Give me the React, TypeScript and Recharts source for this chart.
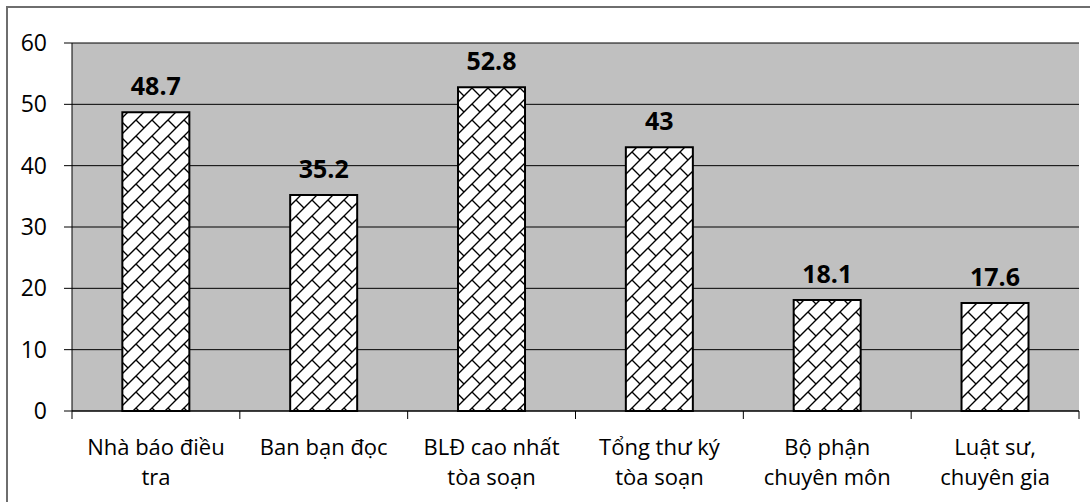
import { BarChart, Bar, XAxis, YAxis, CartesianGrid, LabelList } from 'recharts'

const categories = [
  'Nhà báo điều\ntra',
  'Ban bạn đọc',
  'BLĐ cao nhất\ntòa soạn',
  'Tổng thư ký\ntòa soạn',
  'Bộ phận\nchuyên môn',
  'Luật sư,\nchuyên gia',
]
const values = [48.7, 35.2, 52.8, 43, 18.1, 17.6]
const yTicks = [0, 10, 20, 30, 40, 50, 60]

const data = categories.map((name, i) => ({ name, value: values[i] }))

const FONT = '"Open Sans", sans-serif'

function CategoryTick(props: any) {
  const { x, y, payload, index } = props
  const half = payload.offset ?? 0
  const lines = String(payload.value).split('\n')
  const last = index === categories.length - 1
  return (
    <g>
      <line x1={x - half} x2={x - half} y1={y} y2={y + 8} stroke="#000" strokeWidth={1} />
      {last && <line x1={x + half} x2={x + half} y1={y} y2={y + 8} stroke="#000" strokeWidth={1} />}
      <text x={x} y={y + 44} textAnchor="middle" fontFamily={FONT} fontSize={22} fill="#000">
        {lines.map((l, i) => (
          <tspan key={i} x={x} dy={i === 0 ? 0 : 30}>
            {l}
          </tspan>
        ))}
      </text>
    </g>
  )
}

export default function App() {
  return (
    <div style={{ position: 'absolute', left: 0, top: 0, width: 1090, height: 502, overflow: 'hidden', background: '#fff' }}>
      <svg width={0} height={0} style={{ position: 'absolute' }}>
        <defs>
          <pattern id="brick" patternUnits="userSpaceOnUse" width={16} height={16}>
            <rect width={16} height={16} fill="#fff" />
            <path
              d="M-4 4 L4 -4 M0 16 L16 0 M12 20 L20 12 M8 8 L16 16"
              stroke="#000"
              strokeWidth={1.4}
              fill="none"
            />
          </pattern>
        </defs>
      </svg>
      <div
        style={{
          position: 'absolute',
          left: 6,
          top: 6,
          width: 1100,
          height: 520,
          border: '2px solid #6e6e6e',
        }}
      />
      <div style={{ position: 'absolute', left: 0, top: 0 }}>
        <BarChart
          width={1090}
          height={502}
          data={data}
          margin={{ top: 43, right: 11, bottom: 0, left: 0 }}
          barCategoryGap="30%"
        >
          <CartesianGrid vertical={false} stroke="#000" strokeOpacity={1} fill="#c0c0c0" fillOpacity={1} />
          <XAxis
            dataKey="name"
            height={91}
            interval={0}
            tickLine={false}
            tickSize={0}
            tickMargin={0}
            axisLine={{ stroke: '#000', strokeWidth: 1 }}
            tick={<CategoryTick />}
          />
          <XAxis xAxisId="top" orientation="top" height={0} tick={false} tickLine={false} axisLine={{ stroke: '#808080', strokeWidth: 2 }} />
          <YAxis
            width={72}
            domain={[0, 60]}
            ticks={yTicks}
            interval={0}
            tickSize={8}
            tickMargin={17}
            tickLine={{ stroke: '#000' }}
            axisLine={{ stroke: '#000', strokeWidth: 1 }}
            tick={{ fill: '#000', fontSize: 23, fontFamily: FONT }}
          />
          <YAxis yAxisId="right" orientation="right" width={0} domain={[0, 60]} tick={false} tickLine={false} axisLine={{ stroke: '#808080', strokeWidth: 2 }} />
          <Bar dataKey="value" fill="url(#brick)" stroke="#000" strokeWidth={2} isAnimationActive={false}>
            <LabelList
              dataKey="value"
              position="top"
              offset={17}
              fill="#000"
              fontFamily={FONT}
              fontSize={25}
              fontWeight="bold"
            />
          </Bar>
        </BarChart>
      </div>
    </div>
  )
}
